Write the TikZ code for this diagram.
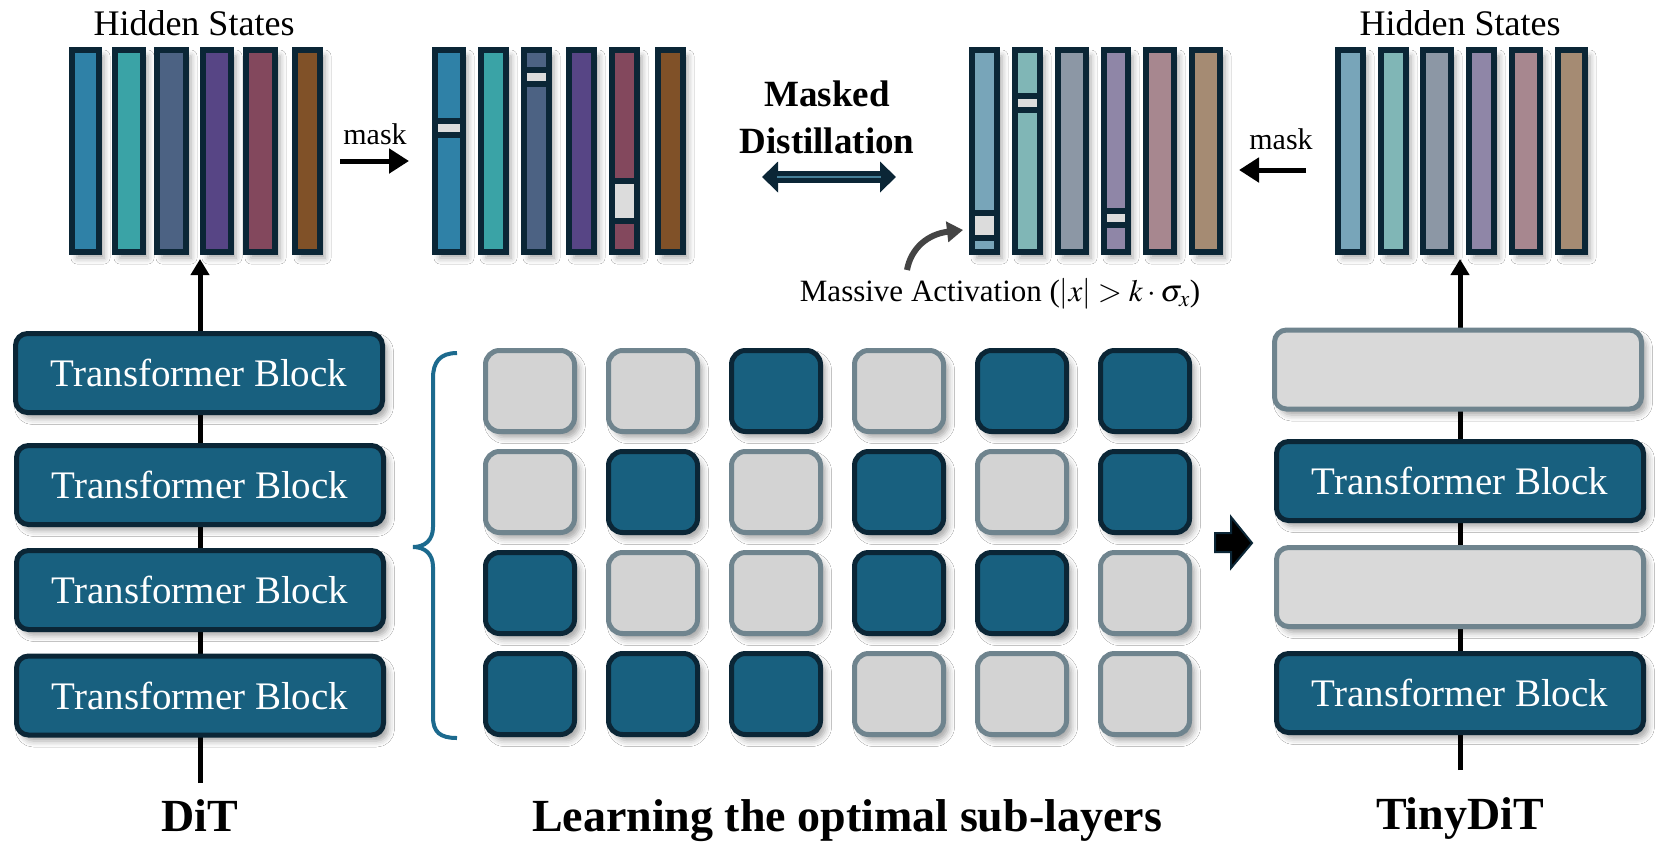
\documentclass[tikz,border=0pt]{standalone}
\usepackage{mathptmx}
\usepackage{fontspec}
\setmainfont{Liberation Serif}
\usetikzlibrary{arrows.meta,shadows,shadows.blur}
\definecolor{navy}{HTML}{0B2636}
\definecolor{blockblue}{HTML}{18607F}
\definecolor{grayedge}{HTML}{6F848E}
\definecolor{cellgray}{HTML}{D3D3D3}
\definecolor{boxgray}{HTML}{D9D9D9}
\definecolor{maskgray}{HTML}{DCDCDC}
\definecolor{bracecol}{HTML}{1C6A8E}
\definecolor{curvecol}{HTML}{444444}
\definecolor{sA}{HTML}{2F81A7}
\definecolor{sB}{HTML}{3AA3A6}
\definecolor{sC}{HTML}{4C6283}
\definecolor{sD}{HTML}{574585}
\definecolor{sE}{HTML}{83485D}
\definecolor{sF}{HTML}{805128}
\definecolor{fA}{HTML}{78A5B9}
\definecolor{fB}{HTML}{80B6B6}
\definecolor{fC}{HTML}{8C97A5}
\definecolor{fD}{HTML}{8F86A7}
\definecolor{fE}{HTML}{A7878F}
\definecolor{fF}{HTML}{A58B73}
\tikzset{
  shad/.style={blur shadow={shadow xshift=5pt, shadow yshift=-6pt, shadow blur radius=6pt, shadow opacity=35}},
  hsbar/.style={draw=navy, line width=6pt, minimum height=202pt, inner sep=0pt, shad},
  tblock/.style={draw=navy, fill=blockblue, line width=5pt, rounded corners=12pt,
    minimum width=367pt, minimum height=79pt, inner sep=0pt, text=white,
    font=\fontsize{39}{41}\selectfont, shad},
  gblock/.style={tblock, draw=grayedge, fill=boxgray},
  cell/.style={line width=5pt, rounded corners=14pt, minimum width=89pt,
    minimum height=81pt, inner sep=0pt, shad},
  cellb/.style={cell, draw=navy, fill=blockblue},
  cellg/.style={cell, draw=grayedge, fill=cellgray},
  flow/.style={line width=5pt, black, -{Triangle[length=16pt,width=18pt]}},
  maskarrow/.style={line width=5pt, black, -{Triangle[length=20pt,width=24pt]}},
  lbl/.style={font=\fontsize{36}{40}\selectfont},
  masklbl/.style={font=\fontsize{30}{32}\selectfont},
  title/.style={font=\fontsize{46}{50}\selectfont\bfseries},
}
\newcommand{\maskat}[4]{%
  \fill[navy] (#1,#3) rectangle (#2,#4);
  \fill[maskgray] ({#1+6},{#3+6}) rectangle ({#2-6},{#4-6});}
\begin{document}
\begin{tikzpicture}[x=1pt,y=-1pt]
\fill[white] (0,0) rectangle (1661,849);
\useasboundingbox (0,0) rectangle (1661,849);

% vertical flow lines
\coordinate (dbot) at (200,783);
\coordinate (dtop) at (200,259);
\coordinate (tbot) at (1460,770);
\coordinate (ttop) at (1460,259);
\draw[flow] (dbot) -- (dtop);
\draw[flow] (tbot) -- (ttop);

% hidden state bars
\foreach \n/\xl/\xr/\col in {1/69/102/sA,2/112/146/sB,3/154/189/sC,4/200/234/sD,5/243/278/sE,6/292/323/sF}
  \node[hsbar, fill=\col, minimum width={\xr-\xl-6}] (lb\n) at ({(\xl+\xr)/2},151) {};
\foreach \n/\xl/\xr/\col in {1/432/466/sA,2/478/509/sB,3/521/552/sC,4/566/597/sD,5/609/640/sE,6/655/686/sF}
  \node[hsbar, fill=\col, minimum width={\xr-\xl-6}] (mb\n) at ({(\xl+\xr)/2},151) {};
\foreach \n/\xl/\xr/\col in {1/969/1000/fA,2/1012/1043/fB,3/1055/1089/fC,4/1101/1131/fD,5/1143/1177/fE,6/1189/1223/fF}
  \node[hsbar, fill=\col, minimum width={\xr-\xl-6}] (sb\n) at ({(\xl+\xr)/2},151) {};
\foreach \n/\xl/\xr/\col in {1/1335/1366/fA,2/1378/1409/fB,3/1420/1454/fC,4/1466/1497/fD,5/1509/1543/fE,6/1555/1588/fF}
  \node[hsbar, fill=\col, minimum width={\xr-\xl-6}] (rb\n) at ({(\xl+\xr)/2},151) {};

% masks
\maskat{432}{466}{118}{138}
\maskat{521}{552}{67}{87}
\maskat{609}{640}{178}{224}
\maskat{969}{1000}{210}{241}
\maskat{1012}{1043}{93}{113}
\maskat{1101}{1131}{208}{228}

% labels top
\node[lbl] (hsl) at (194,23) {Hidden States};
\node[lbl] (hsr) at (1460,23) {Hidden States};
\node[masklbl] (mkl) at (375,134) {mask};
\node[masklbl] (mkr) at (1281,139) {mask};
\coordinate (ma1) at (340,161);
\coordinate (ma2) at (409,161);
\coordinate (mb1s) at (1306,170);
\coordinate (mb2s) at (1239,170);
\draw[maskarrow] (ma1) -- (ma2);
\draw[maskarrow] (mb1s) -- (mb2s);

\node[font=\fontsize{37}{47}\selectfont\bfseries, align=center] (md) at (827,117) {Masked\\Distillation};
\coordinate (da1) at (762,177);
\coordinate (da2) at (896,177);
\draw[line width=12pt, navy, {Triangle[length=16pt,width=30pt]}-{Triangle[length=16pt,width=30pt]}] (da1) -- (da2);
\draw[line width=1.5pt, color=blockblue!80] (777,177) -- (881,177);

% massive activation
\node[font=\fontsize{31}{34}\selectfont] (malbl) at (1000,294) {Massive Activation ($|x| > k\cdot\sigma_x$)};
\coordinate (ca1) at (907,270);
\coordinate (ca2) at (963,230);
\draw[line width=6pt, curvecol, -{Triangle[length=16pt,width=20pt]}] (ca1) .. controls (911,248) and (928,234) .. (ca2);

% left transformer blocks
\node[tblock] (lt1) at (199,373) {Transformer Block};
\node[tblock] (lt2) at (200,485) {Transformer Block};
\node[tblock] (lt3) at (200,590) {Transformer Block};
\node[tblock] (lt4) at (200,695.5) {Transformer Block};

% right blocks
\node[gblock] (rt1) at (1458,369.5) {};
\node[tblock] (rt2) at (1460,481) {Transformer Block};
\node[gblock] (rt3) at (1460,587) {};
\node[tblock] (rt4) at (1460,693) {Transformer Block};

% brace
\draw[bracecol, line width=4pt] (457,353) .. controls (440,353) and (433,362) .. (433,378)
  -- (433,527) .. controls (433,540) and (425,547) .. (413,547)
  .. controls (425,547) and (433,554) .. (433,567)
  -- (433,717) .. controls (433,732) and (440,738) .. (457,738);

% grid
\foreach \r/\c/\t in {1/1/g,1/2/g,1/3/b,1/4/g,1/5/b,1/6/b,
                       2/1/g,2/2/b,2/3/g,2/4/b,2/5/g,2/6/b,
                       3/1/b,3/2/g,3/3/g,3/4/b,3/5/b,3/6/g,
                       4/1/b,4/2/b,4/3/b,4/4/g,4/5/g,4/6/g}
  \node[cell\t] (c\r\c) at ({530+123*(\c-1)},{391+101*(\r-1)}) {};

% block arrow
\fill[black, draw=navy, line width=2pt] (1215,533) -- (1231,533) -- (1231,517) -- (1252,543)
  -- (1231,568) -- (1231,552) -- (1215,552) -- cycle;

% bottom titles
\node[title, anchor=base] (tdit) at (200,831) {DiT};
\node[title, anchor=base] (tlearn) at (847,831) {Learning the optimal sub-layers};
\node[title, anchor=base] (ttiny) at (1460,829) {TinyDiT};
\end{tikzpicture}
\end{document}
